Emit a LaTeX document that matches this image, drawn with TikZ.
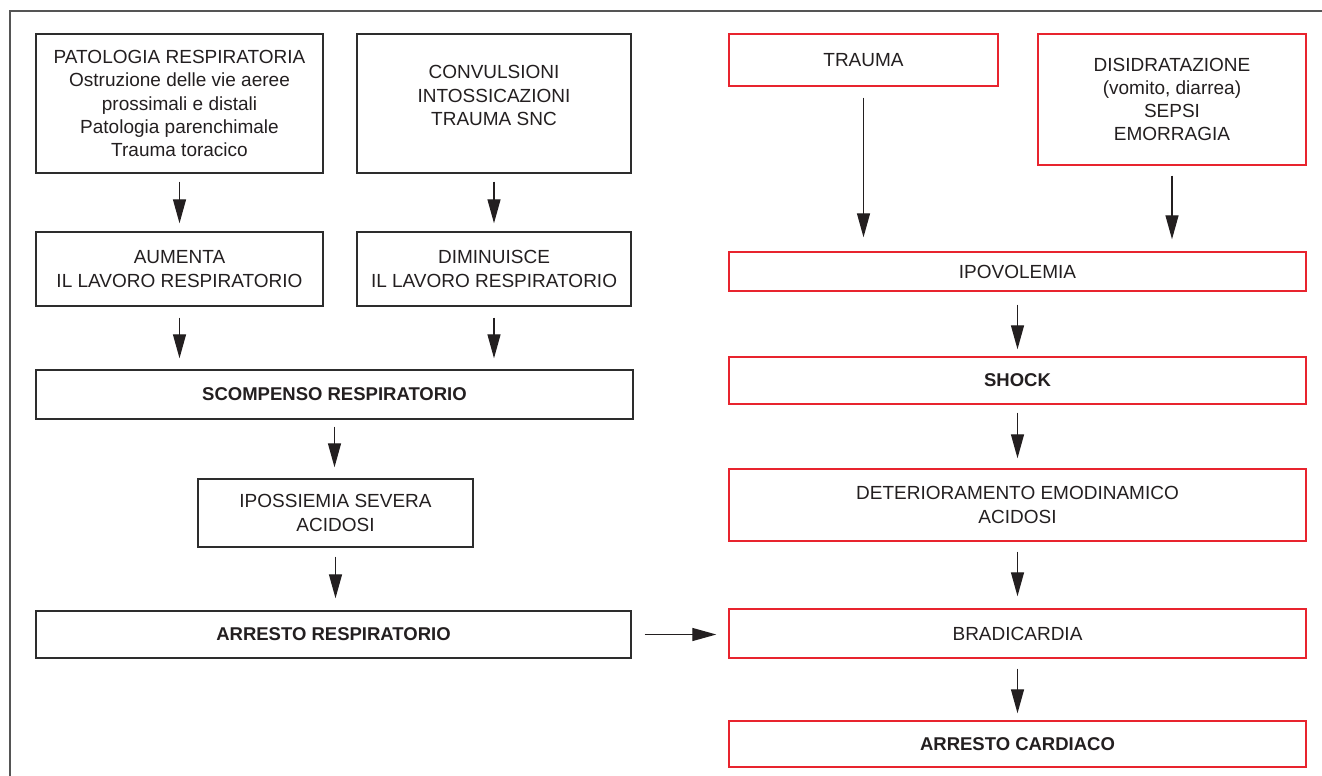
\documentclass[tikz,border=0pt]{standalone}
\usepackage{fontspec}
\setmainfont{Liberation Sans}
\usetikzlibrary{arrows.meta}
\definecolor{txtc}{RGB}{35,31,32}
\definecolor{boxk}{RGB}{45,45,45}
\definecolor{boxr}{RGB}{232,36,46}
\definecolor{framec}{RGB}{85,85,85}
\tikzset{
  box/.style={draw=boxk, line width=1.4pt, inner sep=0pt, align=center, text=txtc,
    font=\fontsize{19}{23.3}\selectfont},
  rbox/.style={box, draw=boxr},
  bfont/.style={font=\fontsize{18.5}{23}\selectfont\bfseries},
  arr/.style={draw=txtc, line width=1.3pt, -{Triangle[length=24pt,width=13pt]}},
  framel/.style={draw=framec, line width=2pt}
}
\begin{document}
\begin{tikzpicture}[x=1pt,y=-1pt]
\useasboundingbox (0,0) rectangle (1322,776);
\draw[framel] (1323,11) -- (10,11) -- (10,777);
% left column
\node[box, minimum width=287pt, minimum height=139pt] (b1) at (179.5,103.5)
  {PATOLOGIA RESPIRATORIA\\Ostruzione delle vie aeree\\prossimali e distali\\Patologia parenchimale\\Trauma toracico};
\node[box, minimum width=274pt, minimum height=139pt] (b2) at (494,103.5) {};
\node[align=center, text=txtc, font=\fontsize{19}{23.3}\selectfont, inner sep=0pt] (b2t) at (494,95.5)
  {CONVULSIONI\\INTOSSICAZIONI\\TRAUMA SNC};
\node[box, minimum width=287pt, minimum height=74pt] (aum) at (179.5,269)
  {AUMENTA\\IL LAVORO RESPIRATORIO};
\node[box, minimum width=274pt, minimum height=74pt] (dim) at (494,269)
  {DIMINUISCE\\IL LAVORO RESPIRATORIO};
\node[box, bfont, minimum width=597pt, minimum height=49pt] (scomp) at (334.5,394.5)
  {SCOMPENSO RESPIRATORIO};
\node[box, minimum width=275pt, minimum height=68pt] (ipos) at (335.5,513)
  {IPOSSIEMIA SEVERA\\ACIDOSI};
\node[box, bfont, minimum width=595pt, minimum height=47pt] (arr) at (333.5,634.5)
  {ARRESTO RESPIRATORIO};
% right column
\node[rbox, minimum width=269pt, minimum height=52pt] (trauma) at (863.5,60) {TRAUMA};
\node[rbox, minimum width=268pt, minimum height=131pt] (disi) at (1172,99.5)
  {DISIDRATAZIONE\\(vomito, diarrea)\\SEPSI\\EMORRAGIA};
\node[rbox, minimum width=577pt, minimum height=39pt] (ipov) at (1017.5,271.5) {IPOVOLEMIA};
\node[rbox, bfont, minimum width=577pt, minimum height=47pt] (shock) at (1017.5,380.5) {SHOCK};
\node[rbox, minimum width=577pt, minimum height=72pt] (det) at (1017.5,505)
  {DETERIORAMENTO EMODINAMICO\\ACIDOSI};
\node[rbox, minimum width=577pt, minimum height=49pt] (brad) at (1017.5,633.5) {BRADICARDIA};
\node[rbox, bfont, minimum width=577pt, minimum height=46pt] (arc) at (1017.5,744) {ARRESTO CARDIACO};
% arrows left
\draw[arr, shorten <=8pt, shorten >=8pt] (b1) -- (aum);
\draw[arr, shorten <=8pt, shorten >=8pt] (b2) -- (dim);
\draw[arr, shorten <=11pt, shorten >=11pt] (aum.south) -- (aum.south |- scomp.north);
\draw[arr, shorten <=11pt, shorten >=11pt] (dim.south) -- (dim.south |- scomp.north);
\draw[arr, shorten <=7pt, shorten >=11pt] (scomp) -- (scomp |- ipos.north);
\draw[arr, shorten <=9pt, shorten >=12pt] (ipos.south) -- (ipos.south |- arr.north);
\draw[arr, shorten <=13pt, shorten >=12pt] (arr.east) -- (arr.east -| brad.west);
% arrows right
\draw[arr, shorten <=11pt, shorten >=14pt] (trauma.south) -- (trauma.south |- ipov.north);
\draw[arr, shorten <=10pt, shorten >=12pt] (disi.south) -- (disi.south |- ipov.north);
\draw[arr, shorten <=13pt, shorten >=7pt] (ipov) -- (shock);
\draw[arr, shorten <=8pt, shorten >=10pt] (shock) -- (det);
\draw[arr, shorten <=10pt, shorten >=12pt] (det) -- (brad);
\draw[arr, shorten <=10pt, shorten >=7pt] (brad) -- (arc);
\end{tikzpicture}
\end{document}
